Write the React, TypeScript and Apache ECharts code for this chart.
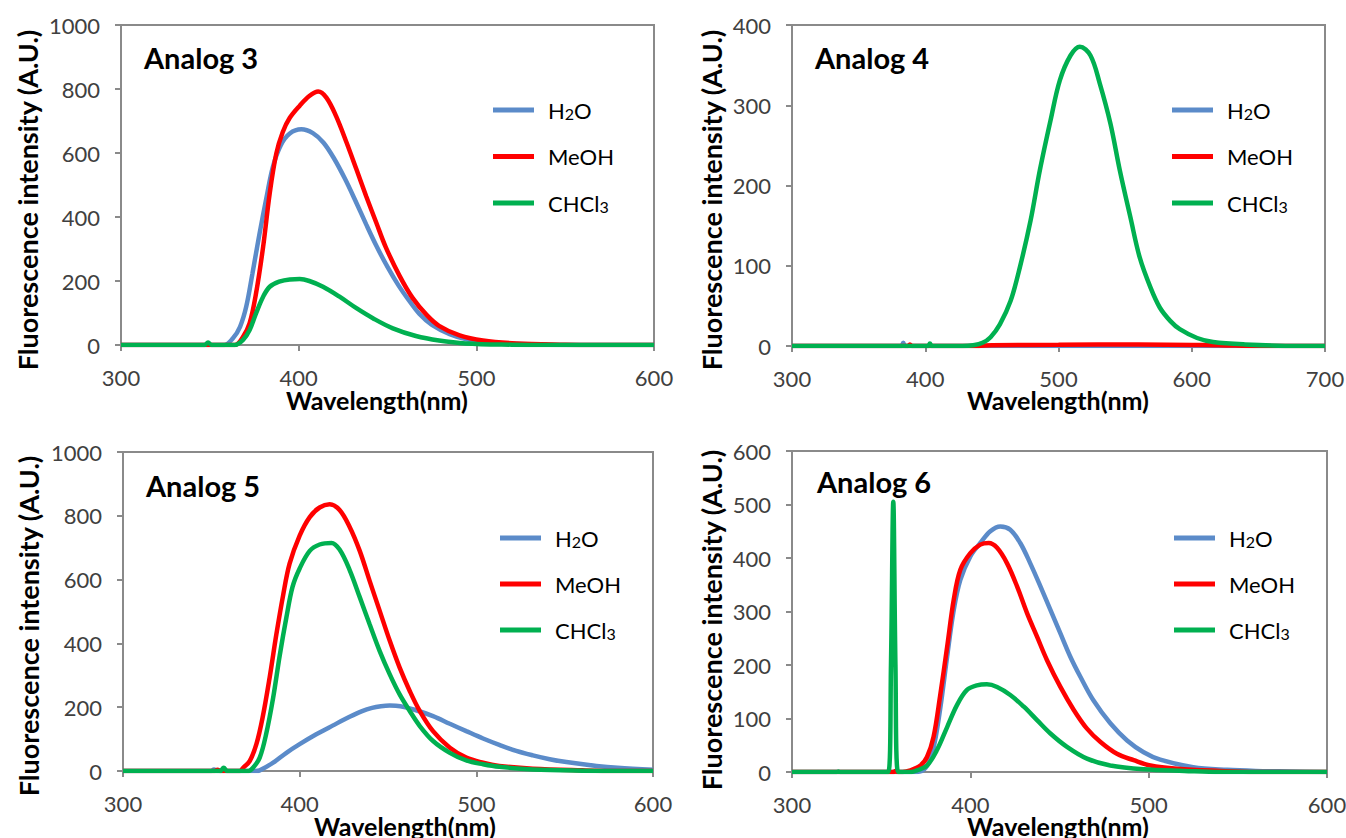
import React, { useEffect, useRef } from "react";
import * as echarts from "echarts";

// ---------- data (wavelength nm, intensity A.U.) ----------
const seriesNames = ["H2O", "MeOH", "CHCl3"];
const panelTitles = ["Analog 3", "Analog 4", "Analog 5", "Analog 6"];
const xTicks = [[300, 600], [300, 700], [300, 600], [300, 600]];
const yTicks = [[0, 1000, 200], [0, 400, 100], [0, 1000, 200], [0, 600, 100]];

const a3H2O = [[300,0],[358,0],[363,21],[367,57],[370.5,120],[374,224],[378,349],[382,464],[385.5,557],[390,625],[395,661],[401.5,674],[408,662],[414,632],[420,582],[426,520],[432,450],[438,377],[444,307],[450,244],[456,188],[462,140],[468,97],[475,63],[485,34],[495,17],[505,9],[520,4],[540,1],[560,0],[600,0]];
const a3MeOH = [[300,0],[364,0],[368.7,26],[372.4,68],[376,161],[380,307],[383.7,474],[387.4,598],[391,665],[395,710],[400.6,748],[406,778],[411,792],[415.6,773],[421,716],[427,632],[432.5,549],[438,465],[443.7,382],[449,306],[456.8,216],[464,148],[472,94],[479,60],[490.6,30],[503.7,14],[522.5,5],[550,1],[565,0],[600,0]];
const a3CHCl3 = [[300,0],[347,0],[349,8],[351,0],[364,0],[368.7,16],[372.4,47],[376,99],[380,151],[383.7,182],[389,198],[395,205],[400.6,206],[406,200],[413.7,182],[423,151],[432.5,115],[442,83],[453,52],[466,28],[479,14],[494,5],[520,1],[540,0],[600,0]];

const a4H2O = [[300,0],[382,0],[383.5,4],[385,0],[700,0]];
const a4MeOH = [[300,0],[387,0],[388.5,2],[390,0],[440,0],[450,1],[500,1.5],[560,2],[620,1],[650,0],[700,0]];
const a4CHCl3 = [[300,0],[402,0],[403.5,3],[405,0],[428,0],[436,1],[443,4],[449,11],[456,27],[464,56],[471,98],[479,156],[486,219],[494,281],[501,331],[509,362],[516,373],[524,362],[531,327],[539,277],[546,219],[554,160],[561,110],[569,73],[576,48],[584,31],[591,21],[604,10],[616,5],[640,2],[680,0],[700,0]];

const a5H2O = [[300,0],[350,0],[351.5,5],[353,0],[375,0],[377.4,2],[385,26],[392.5,57],[400,84],[409.4,115],[418.9,143],[428.3,170],[435,187],[441,198],[446,203],[451,205],[457,203],[465,192],[475.5,172],[485,148],[494.3,125],[503.8,102],[513,82],[522.6,63],[532,49],[541.5,37],[551,28],[568,16],[580,10],[600,4]];
const a5MeOH = [[300,0],[352,0],[353.5,4],[355,0],[366,0],[368,10],[371.7,31],[375.5,84],[379,167],[383,293],[386.8,428],[390.6,550],[394.3,650],[400,738],[405.7,796],[411.3,826],[417,836],[422.6,818],[428.3,765],[434,690],[439.6,596],[445.3,502],[451,408],[456.6,324],[462.3,251],[468,188],[475.5,125],[485,73],[494.3,42],[503.8,26],[513,16],[532,7],[560,2],[580,0],[600,0]];
const a5CHCl3 = [[300,0],[355,0],[357,10],[359,0],[371,0],[373.6,10],[377.4,42],[381,115],[385,230],[388.7,362],[392.5,482],[396,578],[400,635],[405.7,690],[411.3,710],[418,715],[422.6,694],[428.3,630],[434,545],[439.6,460],[445.3,376],[451,303],[456.6,240],[462.3,188],[468,141],[475.5,94],[485,57],[494.3,33],[503.8,21],[513,13],[532,5],[560,1],[580,0],[600,0]];

const a6H2O = [[300,0],[370,0],[375,8],[379,40],[383,116],[387,216],[390.7,303],[394.4,359],[400,403],[405.6,428],[411.2,450],[416.8,459],[422.4,453],[428,428],[433.6,390],[439.3,347],[444.9,303],[450.5,259],[456,216],[461.7,178],[469,134],[478.5,91],[487.9,59],[497.2,37],[506.5,23],[525,9],[544,4],[560,2],[580,1],[600,0]];
const a6MeOH = [[300,0],[357,0],[358,2],[359,0],[362,0],[366.4,3],[372,12],[375.7,28],[379.4,66],[383,141],[387,234],[390.7,322],[394.4,378],[400,409],[405.6,425],[410.3,428],[415,419],[420.6,390],[426.2,347],[431.8,297],[437.4,253],[443,209],[450.5,159],[458,116],[465.4,81],[473,56],[482.2,34],[491.6,22],[501,12],[516,6],[540,2],[560,0],[600,0]];
const a6CHCl3 = [[300,0],[325,0],[326,1],[327,0],[354,0],[355.5,200],[356.8,505],[358,200],[359.5,0],[367,0],[370,3],[375.7,12],[381.3,41],[387,84],[392.5,125],[398,153],[403.7,162],[409.3,164],[415,159],[422.4,144],[430,122],[437.4,97],[444.9,72],[454.2,47],[465.4,25],[478.5,12],[497.2,5],[520,2],[540,0],[600,0]];

const panelData = [
  [a3H2O, a3MeOH, a3CHCl3],
  [a4H2O, a4MeOH, a4CHCl3],
  [a5H2O, a5MeOH, a5CHCl3],
  [a6H2O, a6MeOH, a6CHCl3],
];

// ---------- layout / style ----------
const COLORS = ["#5b8bc9", "#ff0000", "#00b050"];
const FONT = "Lato, 'Open Sans', sans-serif";
const AXIS_COLOR = "#8a8a8a";
const LABEL_COLOR = "#404040";

const grids = [
  { left: 121, top: 25, width: 533, height: 320 },
  { left: 792, top: 25, width: 533, height: 321 },
  { left: 123, top: 452, width: 530, height: 319 },
  { left: 792, top: 451, width: 535, height: 321 },
];
const legendPos = [
  { left: 488, top: 94, gap: 24.5 },
  { left: 1167, top: 94, gap: 24.5 },
  { left: 495, top: 522, gap: 24 },
  { left: 1169, top: 522, gap: 24 },
];
const titlePos = [[144, 57], [815, 57], [146, 485], [817, 481]];
const yNamePos = [[27, 200], [711, 200], [28, 626], [711, 620]];
const xNamePos = [[377, 400], [1058, 400], [405, 826], [1058, 826]];

export default function App() {
  const ref = useRef<HTMLDivElement>(null);
  useEffect(() => {
    if (!ref.current) return;
    const chart = echarts.init(ref.current, null, { renderer: "svg" });

    const axisCommon = {
      type: "value",
      axisLine: { show: true, onZero: false, lineStyle: { color: AXIS_COLOR, width: 2 } },
      axisTick: { show: true, inside: false, length: 6, lineStyle: { color: AXIS_COLOR, width: 2 } },
      splitLine: { show: false },
      axisLabel: {
        fontSize: 22,
        color: LABEL_COLOR,
        fontFamily: FONT,
        margin: 21,
        formatter: (v: number) => String(v),
      },
    };

    const xAxis = xTicks.map((t, i) => ({
      ...axisCommon,
      gridIndex: i,
      min: t[0],
      max: t[1],
      interval: 100,
    }));
    const yAxis = yTicks.map((t, i) => ({
      ...axisCommon,
      gridIndex: i,
      min: t[0],
      max: t[1],
      interval: t[2],
    }));

    const series: any[] = [];
    panelData.forEach((arr, p) => {
      arr.forEach((d, s) => {
        series.push({
          type: "line",
          name: seriesNames[s],
          xAxisIndex: p,
          yAxisIndex: p,
          data: d,
          showSymbol: false,
          symbol: "none",
          smooth: 0.35,
          silent: true,
          lineStyle: { width: 4.5, color: COLORS[s] },
          itemStyle: { color: COLORS[s] },
          z: 2 + s,
        });
      });
    });

    const legendFormatter = (n: string) =>
      n === "H2O" ? "{n|H}{s|2}{n|O}" : n === "CHCl3" ? "{n|CHCl}{s|3}" : "{n|MeOH}";

    const legend = legendPos.map((lp) => ({
      show: true,
      orient: "vertical",
      left: lp.left,
      top: lp.top,
      icon: "rect",
      itemWidth: 41,
      itemHeight: 5,
      itemGap: lp.gap,
      selectedMode: false,
      data: seriesNames,
      formatter: legendFormatter,
      textStyle: {
        padding: [0, 0, 0, 9],
        rich: {
          n: { fontSize: 22, fontFamily: FONT, color: "#000", lineHeight: 22 },
          s: { fontSize: 16, fontFamily: FONT, color: "#000", lineHeight: 22, verticalAlign: "bottom" },
        },
      },
    }));

    const graphic: any[] = [];
    panelTitles.forEach((t, i) => {
      graphic.push({
        type: "text",
        x: titlePos[i][0],
        y: titlePos[i][1],
        style: {
          text: t,
          font: `bold 29px ${FONT}`,
          fill: "#000",
          textAlign: "left",
          textVerticalAlign: "middle",
        },
      });
      graphic.push({
        type: "text",
        x: yNamePos[i][0],
        y: yNamePos[i][1],
        rotation: Math.PI / 2,
        style: {
          text: "Fluorescence intensity (A.U.)",
          font: `bold 27px ${FONT}`,
          fill: "#000",
          textAlign: "center",
          textVerticalAlign: "middle",
        },
      });
      graphic.push({
        type: "text",
        x: xNamePos[i][0],
        y: xNamePos[i][1],
        style: {
          text: "Wavelength(nm)",
          font: `bold 25px ${FONT}`,
          fill: "#000",
          textAlign: "center",
          textVerticalAlign: "middle",
        },
      });
    });

    chart.setOption({
      animation: false,
      backgroundColor: "#ffffff",
      grid: grids.map((g) => ({
        ...g,
        show: true,
        borderColor: AXIS_COLOR,
        borderWidth: 2,
        backgroundColor: "transparent",
        containLabel: false,
        outerBoundsMode: "none",
      })),
      xAxis,
      yAxis,
      legend,
      series,
      graphic,
    });

    return () => chart.dispose();
  }, []);

  return (
    <div
      ref={ref}
      style={{ position: "fixed", left: 0, top: 0, width: 1346, height: 838, background: "#fff" }}
    />
  );
}
